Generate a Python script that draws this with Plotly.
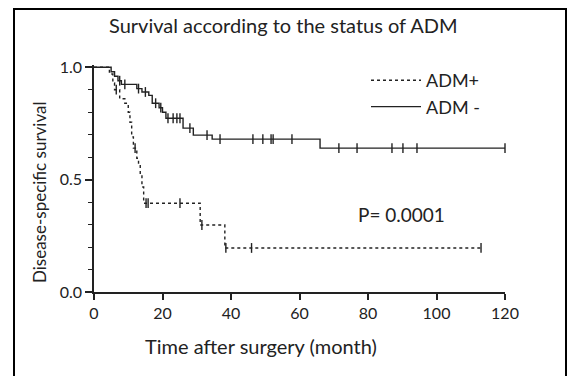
import plotly.graph_objects as go

# ---- data ----
adm_neg_time = [0, 5.0, 6.0, 7.0, 8.0, 12.5, 14.0, 16.0, 17.0, 19.0, 20.0, 21.0, 26.0, 29.0, 34.5, 66.0, 120.0]
adm_neg_surv = [1.0, 0.98, 0.96, 0.94, 0.924, 0.905, 0.89, 0.875, 0.84, 0.82, 0.80, 0.773, 0.729, 0.698, 0.68, 0.64, 0.64]
adm_neg_censor = [7.5, 9.0, 13.0, 15.0, 18.0, 19.5, 21.6, 23.1, 24.2, 25.1, 28.0, 33.0, 36.8,
                  46.4, 49.3, 51.7, 52.3, 57.8, 71.5, 76.8, 87.0, 90.2, 94.3, 120.0]

adm_pos_time = [0, 4.5, 5.5, 6.0, 7.5, 9.0, 10.0, 10.5, 11.0, 11.5, 12.5, 13.0, 13.5, 14.0, 14.5, 31.0, 38.2, 113.0]
adm_pos_surv = [1.0, 0.97, 0.93, 0.90, 0.86, 0.84, 0.80, 0.755, 0.69, 0.64, 0.595, 0.57, 0.52, 0.467, 0.395, 0.298, 0.196, 0.196]
adm_pos_censor = [6.5, 12.0, 15.2, 15.8, 25.1, 31.5, 38.5, 46.0, 113.0]

x_ticks = [0, 20, 40, 60, 80, 100, 120]
y_ticks = [0.0, 0.5, 1.0]
y_tick_labels = ["0.0", "0.5", "1.0"]


def surv_at(times, surv, t):
    val = surv[0]
    for ti, si in zip(times, surv):
        if ti <= t:
            val = si
    return val


FONT = "Lato"
INK = "#222"
fig = go.Figure()

fig.add_trace(go.Scatter(x=adm_pos_time, y=adm_pos_surv, mode="lines", line_shape="hv",
                         name="ADM+", line=dict(color=INK, width=1.4, dash="3px,3px")))
fig.add_trace(go.Scatter(x=adm_neg_time, y=adm_neg_surv, mode="lines", line_shape="hv",
                         name="ADM -", line=dict(color=INK, width=1.4)))
fig.add_trace(go.Scatter(x=adm_pos_censor, y=[surv_at(adm_pos_time, adm_pos_surv, t) for t in adm_pos_censor],
                         mode="markers", showlegend=False, cliponaxis=False,
                         marker=dict(symbol="line-ns", size=7, line=dict(color=INK, width=1.4))))
fig.add_trace(go.Scatter(x=adm_neg_censor, y=[surv_at(adm_neg_time, adm_neg_surv, t) for t in adm_neg_censor],
                         mode="markers", showlegend=False, cliponaxis=False,
                         marker=dict(symbol="line-ns", size=7, line=dict(color=INK, width=1.4))))

W, H = 570, 376
L, R, T, B = 94, 570 - 505, 65, 376 - 292
pw, ph = W - L - R, H - T - B


def px_x(p):
    return (p - L) / pw


def px_y(p):
    return (H - B - p) / ph


def label(text, x, y, size, angle=0):
    return dict(text=text, xref="paper", yref="paper", x=px_x(x), y=px_y(y),
                xanchor="center", yanchor="middle", textangle=angle, showarrow=False,
                font=dict(size=size, family=FONT, color=INK))


fig.update_layout(
    width=W, height=H,
    margin=dict(l=L, r=R, t=T, b=B),
    paper_bgcolor="white", plot_bgcolor="white",
    font=dict(family=FONT, color=INK),
    showlegend=True,
    legend=dict(x=px_x(366), y=px_y(62), xanchor="left", yanchor="top",
                font=dict(size=18, family=FONT, color=INK),
                bgcolor="rgba(0,0,0,0)", itemwidth=50, tracegroupgap=0),
    xaxis=dict(range=[0, 120], tickvals=x_ticks, ticks="outside", ticklen=6, tickwidth=1.5,
               tickcolor=INK, showline=True, linecolor=INK, linewidth=1.5,
               showgrid=False, zeroline=False, tickfont=dict(size=16, family=FONT, color=INK)),
    yaxis=dict(range=[0, 1.01], tickvals=y_ticks, ticktext=y_tick_labels, ticks="outside",
               ticklen=7, tickwidth=1.5, tickcolor=INK, showline=True, linecolor=INK,
               linewidth=1.5, showgrid=False, zeroline=False,
               minor=dict(dtick=0.1, ticks="outside", ticklen=4, tickwidth=1.2, tickcolor=INK),
               tickfont=dict(size=16, family=FONT, color=INK)),
    shapes=[dict(type="rect", xref="paper", yref="paper", x0=px_x(14), x1=px_x(566),
                 y0=px_y(385), y1=px_y(9), line=dict(color="black", width=2))],
    annotations=[
        label("Survival according to the status of ADM", 283, 25, 20),
        label("Time after surgery (month)", 261, 346, 20),
        label("Disease-specific survival", 39, 193, 17, -90),
        label("P= 0.0001", 401, 214, 19),
    ],
)

fig.write_html("out.html", config={"displayModeBar": False},
               post_script="document.body.style.margin='0';")
